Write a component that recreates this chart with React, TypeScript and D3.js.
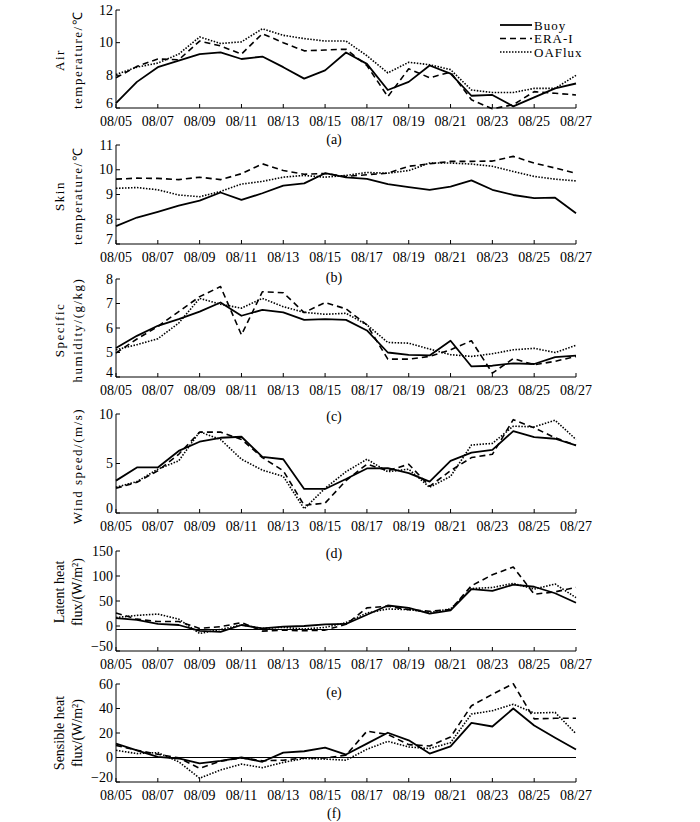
import React from "react";
import * as d3 from "d3";

const dates = [
  "08/05","08/06","08/07","08/08","08/09","08/10","08/11","08/12","08/13","08/14","08/15","08/16",
  "08/17","08/18","08/19","08/20","08/21","08/22","08/23","08/24","08/25","08/26","08/27",
];
const xTickLabels = ["08/05","08/07","08/09","08/11","08/13","08/15","08/17","08/19","08/21","08/23","08/25","08/27"];
const seriesNames = ["Buoy", "ERA-I", "OAFlux"];

// (a) Air temperature
const airBuoy = [6.3,7.6,8.5,8.9,9.3,9.4,9.0,9.15,8.5,7.8,8.3,9.4,8.7,7.1,7.6,8.6,8.1,6.75,6.8,6.1,6.65,7.2,7.5];
const airEra = [7.85,8.55,9.0,8.95,10.1,9.8,9.3,10.55,10.0,9.5,9.55,9.6,8.6,6.7,8.4,7.85,8.2,6.5,5.95,6.2,7.0,6.9,6.8];
const airOaf = [8.05,8.5,8.75,9.3,10.35,9.95,10.05,10.85,10.45,10.25,10.1,10.1,9.2,8.15,8.8,8.65,8.35,7.1,6.95,6.95,7.2,7.2,8.0];

// (b) Skin temperature
const skinBuoy = [7.72,8.07,8.3,8.55,8.75,9.08,8.78,9.05,9.36,9.45,9.86,9.69,9.63,9.42,9.3,9.19,9.32,9.57,9.19,8.98,8.85,8.87,8.24];
const skinEra = [9.62,9.66,9.65,9.6,9.7,9.6,9.84,10.24,9.97,9.82,9.85,9.73,9.8,9.86,10.14,10.24,10.34,10.34,10.35,10.54,10.27,10.07,9.86];
const skinOaf = [9.25,9.28,9.19,8.98,8.91,9.12,9.42,9.53,9.7,9.77,9.7,9.77,9.89,9.86,9.97,10.27,10.27,10.23,10.14,9.93,9.73,9.62,9.55];

// (c) Specific humidity
const qBuoy = [5.18,5.68,6.09,6.36,6.67,7.04,6.5,6.74,6.64,6.33,6.36,6.33,5.9,5.0,4.9,4.88,5.48,4.43,4.46,4.56,4.53,4.81,4.87];
const qEra = [4.98,5.55,6.06,6.67,7.28,7.69,5.72,7.48,7.44,6.63,7.04,6.78,6.13,4.73,4.73,4.84,5.11,5.48,4.16,4.75,4.5,4.64,4.84];
const qOaf = [5.11,5.32,5.56,6.2,7.21,6.97,6.81,7.21,6.87,6.64,6.56,6.6,6.13,5.41,5.38,5.14,4.91,4.84,4.95,5.11,5.17,5.0,5.29];

// (d) Wind speed
const wsBuoy = [3.27,4.6,4.6,6.27,7.2,7.6,7.7,5.67,5.43,2.43,2.43,3.43,4.5,4.53,4.03,3.17,5.27,6.1,6.37,8.27,7.67,7.5,6.83];
const wsEra = [2.5,3.1,4.27,5.93,8.17,8.17,7.43,5.6,4.27,0.77,1.0,3.27,4.93,4.27,4.93,2.7,4.27,5.6,5.93,9.43,8.6,7.6,6.83];
const wsOaf = [2.6,3.17,4.43,5.27,8.2,7.43,5.43,4.33,3.7,0.43,2.5,4.17,5.43,4.17,4.43,2.6,3.7,6.87,7.03,8.77,8.7,9.37,7.43];

// (e) Latent heat flux
const lhBuoy = [15.7,12.3,4.1,2.0,-9.6,-11.6,2.0,-4.8,-1.4,0,3.4,4.1,22.5,41,36.2,24.6,31.4,73.7,70.3,82.6,78.5,65.5,46.4];
const lhEra = [26,13.7,8.9,8.9,-4.8,-1.4,6.8,-10.2,-8.2,-9.6,-8.2,3.4,36.2,39.6,32.8,29.4,32.8,80.5,102.4,118.1,63.5,68.3,77.1];
const lhOaf = [17,21.2,23.9,13.7,-15,-6.8,2,-4.8,-2.7,-6.1,-2.7,6.8,26,34,32.8,27.3,34.1,75,77,85.3,73.7,84,56.7];

// (f) Sensible heat flux
const shBuoy = [11.3,5.9,0.5,-0.8,-4.8,-2.7,0,-3.5,4.0,5.1,8.1,2.4,11.3,20.2,14,3.2,9.1,28.2,25.3,40,26.1,16.1,6.5];
const shEra = [9.9,5.9,2.7,-0.3,-8.9,-3,-0.3,-2.7,-2.2,-0.3,-0.3,1.9,21.5,18.8,10.5,9.4,16.7,42.2,51.6,60.2,31.5,32,32];
const shOaf = [5.9,3.2,4.0,-3.5,-16.9,-10.2,-5.4,-8.3,-4.0,-0.8,-1.3,-2.2,6.7,13.2,8.6,7.3,12.1,35.5,38.2,43.5,36.3,36.8,19.4];

const aTicks = [6, 8, 10, 12];
const bTicks = [7, 8, 9, 10, 11];
const cTicks = [4, 5, 6, 7, 8];
const dTicks = [0, 5, 10];
const eTicks = [-50, 0, 50, 100, 150];
const fTicks = [-20, 0, 20, 40, 60];

const X0 = 116;
const X1 = 576;
const serif = "'Liberation Serif', 'Times New Roman', serif";

type Panel = {
  ticks: number[];
  top: number;
  bottom: number;
  series: number[][];
  title: string[];
  spaced: boolean;
  caption: string;
  capY: number;
  refLine?: number;
  titleCy: number;
};

const panels: Panel[] = [
  { ticks: aTicks, top: 10, bottom: 108, series: [airBuoy, airEra, airOaf], title: ["Air", "temperature/℃"], spaced: true, caption: "(a)", capY: 139, titleCy: 60 },
  { ticks: bTicks, top: 145, bottom: 244, series: [skinBuoy, skinEra, skinOaf], title: ["Skin", "temperature/℃"], spaced: true, caption: "(b)", capY: 277, titleCy: 196 },
  { ticks: cTicks, top: 279, bottom: 377, series: [qBuoy, qEra, qOaf], title: ["Specific", "humidity/(g/kg)"], spaced: true, caption: "(c)", capY: 416, titleCy: 330 },
  { ticks: dTicks, top: 414, bottom: 513, series: [wsBuoy, wsEra, wsOaf], title: ["Wind speed/(m/s)"], spaced: true, caption: "(d)", capY: 553, titleCy: 466 },
  { ticks: eTicks, top: 551, bottom: 651, series: [lhBuoy, lhEra, lhOaf], title: ["Latent heat", "flux/(W/m²)"], spaced: false, caption: "(e)", capY: 692, refLine: -7, titleCy: 592 },
  { ticks: fTicks, top: 684, bottom: 782, series: [shBuoy, shEra, shOaf], title: ["Sensible heat", "flux/(W/m²)"], spaced: false, caption: "(f)", capY: 813, refLine: 0, titleCy: 733 },
];

const styles = [
  { dash: undefined as string | undefined, width: 1.8 },
  { dash: "6,4", width: 1.6 },
  { dash: "1.5,1.5", width: 1.6 },
];

function PanelView({ p }: { p: Panel }) {
  const x = d3.scalePoint<string>().domain(dates).range([X0, X1]);
  const y = d3
    .scaleLinear()
    .domain([p.ticks[0], p.ticks[p.ticks.length - 1]])
    .range([p.bottom, p.top]);
  const line = d3
    .line<number>()
    .x((_, i) => x(dates[i]) as number)
    .y((v) => y(v));
  const twoLine = p.title.length === 2;
  return (
    <g>
      {p.refLine !== undefined && (
        <line x1={X0} x2={X1} y1={y(p.refLine)} y2={y(p.refLine)} stroke="#000" strokeWidth={1} />
      )}
      {p.series.map((s, k) => (
        <path
          key={k}
          d={line(s) as string}
          fill="none"
          stroke="#000"
          strokeWidth={styles[k].width}
          strokeDasharray={styles[k].dash}
          strokeLinejoin="round"
        />
      ))}
      <line x1={X0} x2={X0} y1={p.top} y2={p.bottom} stroke="#000" strokeWidth={1} />
      <line x1={X0} x2={X1} y1={p.bottom} y2={p.bottom} stroke="#000" strokeWidth={1} />
      {p.ticks.map((t) => (
        <g key={t}>
          <line x1={X0} x2={X0 + 4} y1={y(t)} y2={y(t)} stroke="#000" strokeWidth={1} />
          <text x={X0 - 3} y={y(t) - (t === p.ticks[0] ? 5 : 0)} dy="0.33em" textAnchor="end" fontFamily={serif} fontSize={14}>
            {t < 0 ? "\u2212" + Math.abs(t) : t}
          </text>
        </g>
      ))}
      {xTickLabels.map((lab) => (
        <g key={lab}>
          <line x1={x(lab)} x2={x(lab)} y1={p.bottom} y2={p.bottom - 4} stroke="#000" strokeWidth={1} />
          <text x={x(lab)} y={p.bottom + 13} dy="0.35em" textAnchor="middle" fontFamily={serif} fontSize={14}>
            {lab}
          </text>
        </g>
      ))}
      {p.title.map((t, i) => {
        const tx = twoLine ? (i === 0 ? 59 : 77) : 77;
        return (
          <text
            key={i}
            transform={`translate(${tx},${p.titleCy}) rotate(-90)`}
            textAnchor="middle"
            dy="0.35em"
            fontFamily={serif}
            fontSize={p.spaced ? 13 : 14}
            letterSpacing={p.spaced ? 1.5 : 0}
          >
            {t}
          </text>
        );
      })}
      <text x={334} y={p.capY} dy="0.35em" textAnchor="middle" fontFamily={serif} fontSize={14}>
        {p.caption}
      </text>
    </g>
  );
}

export default function App() {
  return (
    <svg
      width={700}
      height={822}
      style={{ position: "absolute", left: 0, top: 0, background: "#fff" }}
    >
      <rect width={700} height={822} fill="#fff" />
      {panels.map((p, i) => (
        <PanelView key={i} p={p} />
      ))}
      {seriesNames.map((n, k) => (
        <g key={n}>
          <line
            x1={500}
            x2={532}
            y1={25 + k * 13.5}
            y2={25 + k * 13.5}
            stroke="#000"
            strokeWidth={styles[k].width}
            strokeDasharray={styles[k].dash}
          />
          <text x={534} y={25 + k * 13.5} dy="0.35em" fontFamily={serif} fontSize={13} letterSpacing={1}>
            {n}
          </text>
        </g>
      ))}
    </svg>
  );
}
